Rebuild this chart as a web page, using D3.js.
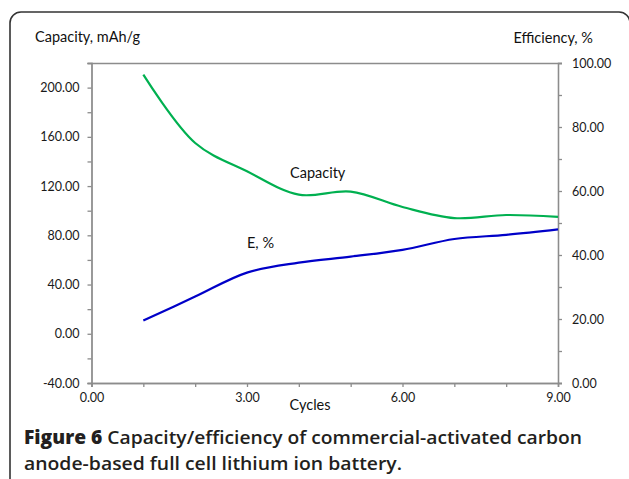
<!DOCTYPE html>
<html>
<head>
<meta charset="utf-8">
<script src="https://cdn.jsdelivr.net/npm/d3@7"></script>
<style>
  body { margin: 0; background: #fff; }
  text { font-family: Lato, "Open Sans", sans-serif; }
</style>
</head>
<body>
<script>
//Width and height
var w = 629;
var h = 479;

// data
var cycles = [1, 2, 3, 4, 5, 6, 7, 8, 9];
var capacity = [210.5, 155, 132, 113, 115.5, 103, 94, 96.5, 95];
var efficiency = [19.5, 27, 34.5, 37.6, 39.5, 41.6, 45, 46.3, 48];

var xTicks = [0, 3, 6, 9];
var xMinor = [1, 2, 4, 5, 7, 8];
var leftTicks = [-40, 0, 40, 80, 120, 160, 200];
var leftMinor = [-20, 20, 60, 100, 140, 180, 220];
var rightTicks = [0, 20, 40, 60, 80, 100];
var rightMinor = [10, 30, 50, 70, 90];

var plot = {left: 91.5, right: 558, top: 63, bottom: 383};
var axisColor = "#8c8c8c";

// excel-style number labels, plain hyphen for negatives
var fmt = function(d) { return d.toFixed(2); };

//Create SVG element
var svg = d3.select("body")
            .append("svg")
            .attr("width", w)
            .attr("height", h);

// frame around the figure
svg.append("rect")
    .attr("x", 10).attr("y", 12)
    .attr("width", 620).attr("height", 520)
    .attr("rx", 11).attr("ry", 11)
    .attr("fill", "none")
    .attr("stroke", "#333")
    .attr("stroke-width", 1.6);

var x = d3.scaleLinear().domain([0, 9]).range([plot.left, plot.right]);
var yL = d3.scaleLinear().domain([-40, 220]).range([plot.bottom, plot.top]);
var yR = d3.scaleLinear().domain([0, 100]).range([plot.bottom, plot.top]);

// top border of plot area
svg.append("line")
    .attr("x1", plot.left).attr("x2", plot.right)
    .attr("y1", plot.top + 0.5).attr("y2", plot.top + 0.5)
    .attr("stroke", axisColor).attr("stroke-width", 1.3);

function styleAxis(g) {
    g.select(".domain").attr("stroke", axisColor).attr("stroke-width", 1.3);
    g.selectAll(".tick line").attr("stroke", axisColor).attr("stroke-width", 1.3);
    g.selectAll(".tick text").attr("fill", "#1a1a1a").style("font-size", "12.5px")
        .style("font-family", "Lato, sans-serif");
}

// minor ticks first (no labels)
svg.append("g")
    .attr("transform", "translate(0," + plot.bottom + ")")
    .call(d3.axisBottom(x).tickValues(xMinor).tickSize(4).tickFormat(""))
    .call(styleAxis);
svg.append("g")
    .attr("transform", "translate(" + plot.left + ",0)")
    .call(d3.axisLeft(yL).tickValues(leftMinor).tickSize(4).tickFormat(""))
    .call(styleAxis);
svg.append("g")
    .attr("transform", "translate(" + plot.right + ",0)")
    .call(d3.axisRight(yR).tickValues(rightMinor).tickSize(4).tickFormat(""))
    .call(styleAxis);

// labelled axes
svg.append("g")
    .attr("transform", "translate(0," + plot.bottom + ")")
    .call(d3.axisBottom(x).tickValues(xTicks).tickSize(4).tickPadding(6).tickFormat(fmt))
    .call(styleAxis);
svg.append("g")
    .attr("transform", "translate(" + plot.left + ",0)")
    .call(d3.axisLeft(yL).tickValues(leftTicks).tickSize(4).tickPadding(8).tickFormat(fmt))
    .call(styleAxis);
svg.append("g")
    .attr("transform", "translate(" + plot.right + ",0)")
    .call(d3.axisRight(yR).tickValues(rightTicks).tickSize(4).tickPadding(10).tickFormat(fmt))
    .call(styleAxis);

// series
var capLine = d3.line()
    .x(function(d, i) { return x(cycles[i]); })
    .y(function(d) { return yL(d); })
    .curve(d3.curveCatmullRom.alpha(0.5));
var effLine = d3.line()
    .x(function(d, i) { return x(cycles[i]); })
    .y(function(d) { return yR(d); })
    .curve(d3.curveCatmullRom.alpha(0.5));

svg.append("path")
    .datum(capacity)
    .attr("d", capLine)
    .attr("fill", "none")
    .attr("stroke", "#00b050")
    .attr("stroke-width", 2.2);
svg.append("path")
    .datum(efficiency)
    .attr("d", effLine)
    .attr("fill", "none")
    .attr("stroke", "#0000c8")
    .attr("stroke-width", 2.2);

// titles and labels
function label(txt, px, py, anchor, size) {
    return svg.append("text")
        .attr("x", px).attr("y", py)
        .attr("text-anchor", anchor)
        .attr("dominant-baseline", "central")
        .attr("fill", "#111")
        .style("font-size", size + "px")
        .text(txt);
}
label("Capacity, mAh/g", 35, 36, "start", 14.5);
label("Efficiency, %", 593, 37, "end", 14.5);
label("Capacity", 290, 172, "start", 14.5);
label("E, %", 247, 242, "start", 14.5);
label("Cycles", 310, 404, "middle", 14.5);

// caption
var cap1 = svg.append("text")
    .attr("x", 24).attr("y", 444)
    .attr("fill", "#231f20")
    .style("font-family", "'Open Sans', sans-serif")
    .style("font-weight", 600)
    .style("font-size", "18.5px");
cap1.append("tspan").style("font-weight", 800).text("Figure 6");
cap1.append("tspan").text(" Capacity/efficiency of commercial-activated carbon");
cap1.attr("textLength", 558).attr("lengthAdjust", "spacingAndGlyphs");

svg.append("text")
    .attr("x", 24).attr("y", 470)
    .attr("fill", "#231f20")
    .style("font-family", "'Open Sans', sans-serif")
    .style("font-weight", 600)
    .style("font-size", "18.5px")
    .attr("textLength", 378)
    .attr("lengthAdjust", "spacingAndGlyphs")
    .text("anode-based full cell lithium ion battery.");
</script>
</body>
</html>
